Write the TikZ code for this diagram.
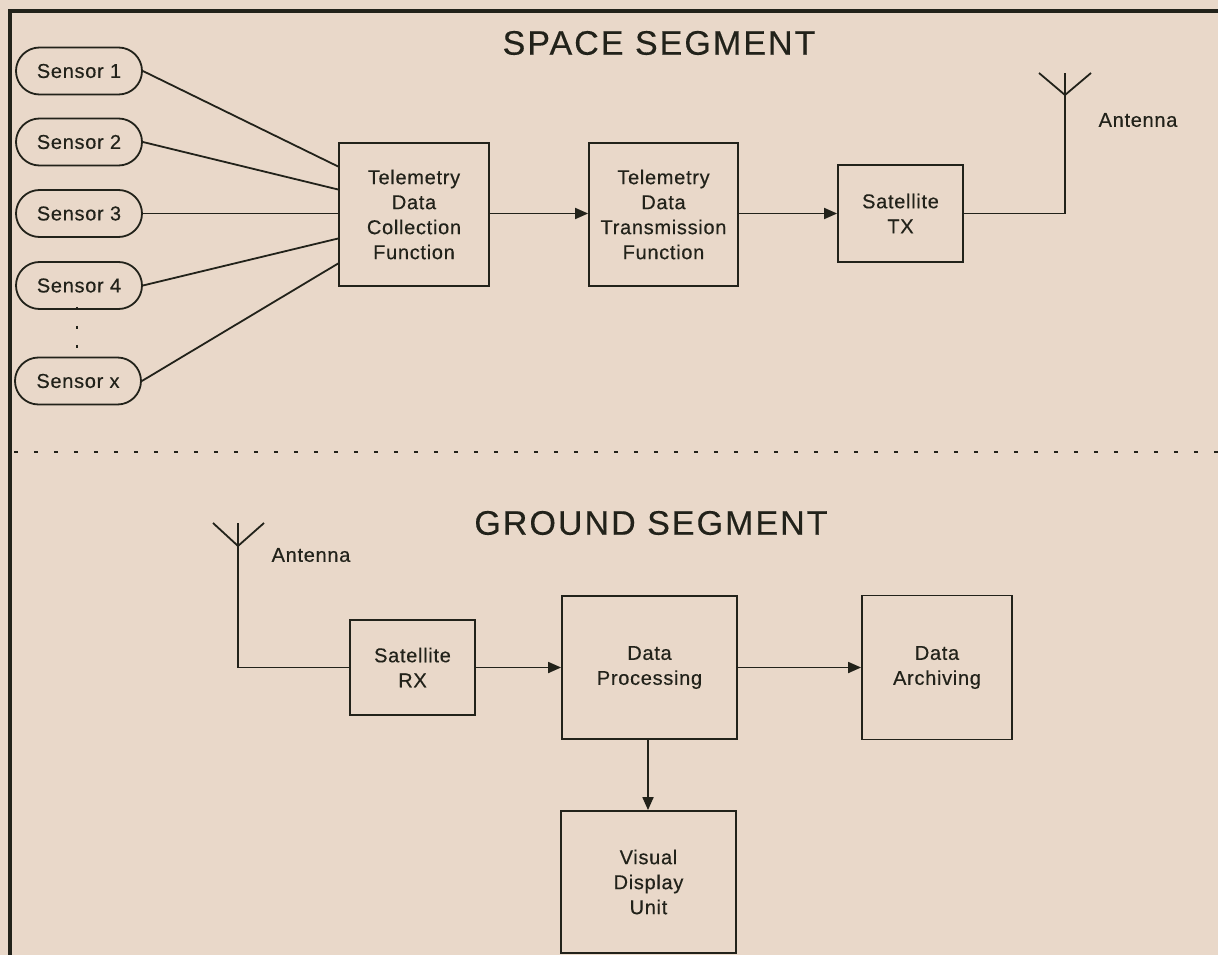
\documentclass[tikz,border=0pt]{standalone}
\usepackage{fontspec}
\setmainfont{Liberation Sans}
\usetikzlibrary{shapes.misc,arrows.meta,calc}
\definecolor{bg}{RGB}{233,216,201}
\definecolor{ink}{RGB}{34,34,26}
\newfontfamily\smallf[LetterSpace=3.5,FakeBold=0.4]{Liberation Sans}
\newfontfamily\titlef[LetterSpace=6,FakeBold=0.4]{Liberation Sans}
\tikzset{
  blk/.style={draw=ink, line width=1.8pt, rectangle, inner sep=0pt, align=center,
    text=ink, font=\smallf\fontsize{20}{25}\selectfont},
  sensorbox/.style={draw=ink, line width=1.8pt, rounded rectangle, inner sep=0pt,
    minimum width=126pt, minimum height=47pt, text=ink, font=\smallf\fontsize{20}{25}\selectfont},
  wire/.style={draw=ink, line width=1.8pt},
  arr/.style={wire, -{Triangle[length=13pt,width=11pt]}},
  lbl/.style={text=ink, inner sep=0pt, font=\smallf\fontsize{20}{25}\selectfont},
  ttl/.style={text=ink, inner sep=0pt, font=\titlef\fontsize{34}{40}\selectfont}
}
\begin{document}
\begin{tikzpicture}[x=1pt,y=-1pt]
\useasboundingbox (0,0) rectangle (1218,955);
\fill[bg] (0,0) rectangle (1218,955);
% frame
\draw[ink, line width=3.2pt] (10,960) -- (10,11) -- (1225,11);
% separator
\draw[ink, line width=1.5pt, dash pattern=on 4pt off 16pt] (14,452) -- (1218,452);
% titles
\node[ttl] (t1) at (659,43) {SPACE SEGMENT};
\node[ttl] (t2) at (651,523) {GROUND SEGMENT};
% sensors
\node[sensorbox] (s1) at (79,71) {Sensor 1};
\node[sensorbox] (s2) at (79,142) {Sensor 2};
\node[sensorbox] (s3) at (79,213.5) {Sensor 3};
\node[sensorbox] (s4) at (79,285.5) {Sensor 4};
\node[sensorbox] (sx) at (78,381) {Sensor x};
\draw[ink, line width=1.2pt, dash pattern=on 3pt off 16pt] ($(s4.south)+(-2,-3)$) -- ($(sx.north)+(-1,2)$);
% space blocks
\node[blk, minimum width=150pt, minimum height=143pt] (tdc) at (414,214.5) {Telemetry\\Data\\Collection\\Function};
\node[blk, minimum width=149pt, minimum height=143pt] (tdt) at (663.5,214.5) {Telemetry\\Data\\Transmission\\Function};
\node[blk, minimum width=125pt, minimum height=97pt] (tx) at (900.5,213.5) {Satellite\\TX};
\draw[wire] (s1.east) -- ([yshift=48pt]tdc.west);
\draw[wire] (s2.east) -- ([yshift=25pt]tdc.west);
\draw[wire] (s3.east) -- ([yshift=1pt]tdc.west);
\draw[wire] (s4.east) -- ([yshift=-24pt]tdc.west);
\draw[wire] (sx.east) -- ([yshift=-49pt]tdc.west);
\draw[arr] ([yshift=1pt]tdc.east) -- ([yshift=1pt]tdt.west);
\draw[arr] ([yshift=1pt]tdt.east) -- (tx.west);
% space antenna
\coordinate (a1) at (1065,73);
\coordinate (a1j) at (1065,95);
\draw[wire] (tx.east) -| (a1);
\draw[wire] (1039,73) -- (a1j) -- (1091,73);
\node[lbl] (a1l) at (1138,120) {Antenna};
% ground blocks
\node[blk, minimum width=125pt, minimum height=95pt] (rx) at (412.5,667.5) {Satellite\\RX};
\node[blk, minimum width=175pt, minimum height=143pt] (dp) at (649.5,667.5) {Data\\Processing};
\node[blk, minimum width=150pt, minimum height=144pt] (da) at (937,667.5) {Data\\Archiving};
\node[blk, minimum width=175pt, minimum height=142pt] (vdu) at (648.5,882) {Visual\\Display\\Unit};
\draw[arr] (rx.east) -- (dp.west);
\draw[arr] (dp.east) -- (da.west);
\draw[arr] ([xshift=-1.5pt]dp.south) -- ([xshift=-0.5pt]vdu.north);
% ground antenna
\coordinate (a2) at (238,523);
\coordinate (a2j) at (238,546);
\draw[wire] (rx.west) -| (a2);
\draw[wire] (213,523) -- (a2j) -- (264,523);
\node[lbl] (a2l) at (311,555) {Antenna};
\end{tikzpicture}
\end{document}
